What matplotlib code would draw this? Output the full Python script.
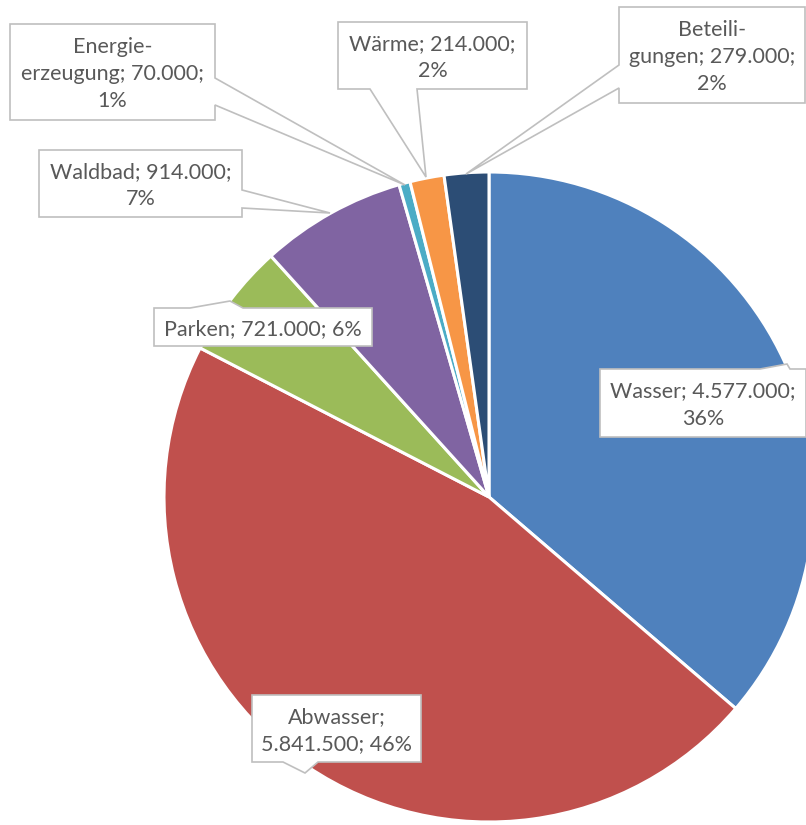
import matplotlib
matplotlib.use("Agg")
import matplotlib.pyplot as plt
from matplotlib.patches import Polygon

# data
categories = ["Wasser", "Abwasser", "Parken", "Waldbad", "Energieerzeugung", "Wärme", "Beteiligungen"]
values = [4577000, 5841500, 721000, 914000, 70000, 214000, 279000]
label_texts = [
    "Wasser; 4.577.000;\n36%",
    "Abwasser;\n5.841.500; 46%",
    "Parken; 721.000; 6%",
    "Waldbad; 914.000;\n7%",
    "Energie-\nerzeugung; 70.000;\n1%",
    "Wärme; 214.000;\n2%",
    "Beteili-\ngungen; 279.000;\n2%",
]
colors = ["#4F81BD", "#C0504D", "#9BBB59", "#8064A2", "#4BACC6", "#F79646", "#2C4D75"]

W, H = 806, 825

# callout layout in pixel coords: box (x0, y0, x1, y1), edge with tail, tail base (a, b), tip
callouts = [
    ((600, 369, 806, 437), "top", (760, 790), (787, 364)),
    ((252, 695, 421, 762), "bottom", (283, 318), (305, 773)),
    ((154, 308, 372, 346), "top", (190, 243), (230, 301)),
    ((39, 150, 242, 217), "right", (190, 208), (330, 213)),
    ((10, 24, 215, 120), "right", (78, 105), (405, 185)),
    ((338, 22, 527, 89), "bottom", (370, 417), (426, 177)),
    ((619, 7, 805, 103), "left", (65, 88), (466, 174)),
]


def fy(y):
    return H - y


def callout_poly(box, edge, base, tip):
    x0, y0, x1, y1 = box
    a, b = base
    if edge == "top":
        pts = [(x0, y0), (a, y0), tip, (b, y0), (x1, y0), (x1, y1), (x0, y1)]
    elif edge == "bottom":
        pts = [(x0, y0), (x1, y0), (x1, y1), (b, y1), tip, (a, y1), (x0, y1)]
    elif edge == "right":
        pts = [(x0, y0), (x1, y0), (x1, a), tip, (x1, b), (x1, y1), (x0, y1)]
    else:
        pts = [(x0, y0), (x1, y0), (x1, y1), (x0, y1), (x0, b), tip, (x0, a)]
    return [(px, fy(py)) for px, py in pts]


fig = plt.figure(figsize=(W / 100, H / 100), dpi=100)
ax = fig.add_axes([0, 0, 1, 1])

ax.pie(
    values,
    colors=colors,
    startangle=90,
    counterclock=False,
    center=(489, fy(497)),
    radius=325,
    wedgeprops={"edgecolor": "white", "linewidth": 2.2},
    frame=True,
)
ax.set_xlim(0, W)
ax.set_ylim(0, H)
ax.set_aspect("equal")
ax.axis("off")

for text, (box, edge, base, tip) in zip(label_texts, callouts):
    poly = Polygon(callout_poly(box, edge, base, tip), closed=True,
                   facecolor="white", edgecolor="#BFBFBF", linewidth=1.2, zorder=5)
    ax.add_patch(poly)
    cx = (box[0] + box[2]) / 2
    cy = (box[1] + box[3]) / 2 + 2
    ax.text(cx, fy(cy), text, ha="center", va="center", fontsize=15.5,
            family="Lato", color="#595959", linespacing=1.45, zorder=6)

fig.savefig("out.png", dpi=100)
